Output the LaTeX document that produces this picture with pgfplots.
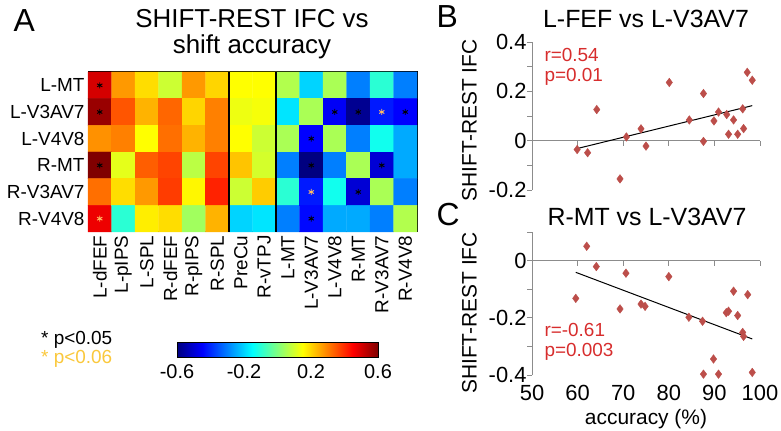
\documentclass[border=0pt]{standalone}
\usepackage{fontspec}
\setmainfont{Liberation Sans}
\usepackage{pgfplots}
\pgfplotsset{compat=1.18}
\definecolor{mk}{RGB}{188,78,74}
\definecolor{rtext}{RGB}{215,45,45}
\definecolor{gold}{RGB}{250,200,60}
\definecolor{axg}{RGB}{140,140,140}
\newcommand{\fs}[1]{\fontsize{#1}{#1}\selectfont}
\begin{document}
\begin{tikzpicture}[x=1bp,y=1bp]
\useasboundingbox (0,0) rectangle (781,430);
% ---------------- Panel A: heatmap ----------------
\begin{axis}[
  at={(88bp,358bp)}, anchor=north west, scale only axis,
  width=329bp, height=160bp,
  xmin=-0.5, xmax=13.5, ymin=-0.5, ymax=5.5, y dir=reverse,
  enlargelimits=false,
  colormap/jet, point meta min=-0.6, point meta max=0.6,
  xtick={0,...,13}, ytick={0,...,5},
  xticklabels={L-dFEF,L-pIPS,L-SPL,R-dFEF,R-pIPS,R-SPL,PreCu,R-vTPJ,L-MT,L-V3AV7,L-V4V8,R-MT,R-V3AV7,R-V4V8},
  yticklabels={L-MT,L-V3AV7,L-V4V8,R-MT,R-V3AV7,R-V4V8},
  xticklabel style={rotate=90, anchor=east, font=\fs{19}},
  yticklabel style={font=\fs{19}},
  tick align=inside, major tick length=4bp,
  tick style={black, line width=0.8bp},
  axis line style={line width=1bp},
  clip=false,
  colorbar horizontal,
  colorbar style={
    at={(parent axis.south west)}, anchor=north west, xshift=89bp, yshift=-102bp,
    scale only axis, width=201bp, height=15bp,
    xtick={-0.6,-0.2,0.2,0.6},
    xticklabel style={font=\fs{20}, yshift=-4bp, /pgf/number format/assume math mode=true, /pgf/number format/fixed, /pgf/number format/precision=1},
    major tick length=0pt,
    axis line style={line width=1bp},
  },
]
\addplot[matrix plot*, mesh/cols=14, point meta=explicit] table[meta=c] {
x y c
0 0 0.50
1 0 0.27
2 0 0.19
3 0 0.09
4 0 0.27
5 0 0.20
6 0 0.15
7 0 0.15
8 0 0.06
9 0 -0.20
10 0 0.05
11 0 -0.30
12 0 -0.10
13 0 -0.30
0 1 0.57
1 1 0.35
2 1 0.24
3 1 0.33
4 1 0.20
5 1 0.30
6 1 0.13
7 1 0.14
8 1 -0.18
9 1 0.05
10 1 -0.46
11 1 -0.58
12 1 -0.42
13 1 -0.45
0 2 0.28
1 2 0.30
2 2 0.15
3 2 0.32
4 2 0.24
5 2 0.30
6 2 0.15
7 2 0.09
8 2 0.05
9 2 -0.45
10 2 0.05
11 2 -0.30
12 2 -0.13
13 2 -0.25
0 3 0.60
1 3 0.12
2 3 0.34
3 3 0.37
4 3 0.07
5 3 0.37
6 3 0.22
7 3 0.10
8 3 -0.30
9 3 -0.60
10 3 -0.30
11 3 0.05
12 3 -0.50
13 3 -0.25
0 4 0.32
1 4 0.19
2 4 0.27
3 4 0.38
4 4 0.16
5 4 0.41
6 4 0.09
7 4 0.21
8 4 -0.10
9 4 -0.42
10 4 -0.13
11 4 -0.50
12 4 0.05
13 4 -0.30
0 5 0.47
1 5 -0.10
2 5 0.17
3 5 0.19
4 5 0.04
5 5 0.24
6 5 -0.20
7 5 -0.18
8 5 -0.30
9 5 -0.44
10 5 -0.25
11 5 -0.25
12 5 -0.30
13 5 0.06
};
\addplot[black, line width=1.2bp] coordinates {(5.5,-0.5) (5.5,5.5)};
\addplot[black, line width=1.2bp] coordinates {(7.5,-0.5) (7.5,5.5)};
\addplot[only marks, mark=asterisk, mark size=3bp, black, mark options={line width=0.9bp}] coordinates {
(0,0) (0,1) (0,3) (10,1) (11,1) (13,1) (9,2) (9,3) (12,3) (11,4) (9,5)};
\addplot[only marks, mark=asterisk, mark size=3bp, color={rgb,255:red,255;green,190;blue,100}, mark options={line width=0.9bp}] coordinates {
(0,5) (12,1) (9,4)};
\end{axis}
\node[anchor=base west, font=\fs{32}] at (10,398) {A};
\node[anchor=base, font=\fs{26}] at (252,402) {SHIFT-REST IFC vs};
\node[anchor=base, font=\fs{26}] at (252,377) {shift accuracy};
\node[anchor=west, font=\fs{19}, inner sep=1bp] at (40,90.5) {* p<0.05};
\node[anchor=west, font=\fs{19}, inner sep=1bp, text=gold] at (40,71) {* p<0.06};
% ---------------- Panel B ----------------
\begin{axis}[
  at={(532bp,240bp)}, anchor=south west, scale only axis,
  width=228bp, height=148bp,
  xmin=50, xmax=100, ymin=-0.2, ymax=0.4,
  axis x line=middle, axis y line=left,
  axis line style={axg, line width=0.8bp, -},
  xtick={50,60,...,100}, xticklabels={},
  ytick={-0.2,0,0.2,0.4}, minor ytick={-0.1,0.1,0.3},
  tick style={axg, line width=0.8bp},
  tick align=outside, major tick length=5bp, minor tick length=5bp,
  yticklabel style={font=\fs{22}, text=black, xshift=3bp},
  /pgf/number format/assume math mode=true,
  hide obscured x ticks=false, hide obscured y ticks=false,
  ylabel={SHIFT-REST IFC},
  every axis y label/.style={at={(axis description cs:-0.275,0.47)}, rotate=90, anchor=center, font=\fs{21}},
  clip=false,
]
\addplot[only marks, mark=diamond*, mark size=4.3bp, color=mk] table {
59.9 -0.036
62.2 -0.049
64.2 0.126
69.3 -0.155
70.7 0.015
73.9 0.048
75.0 -0.022
80.1 0.236
84.5 0.084
87.6 -0.003
87.6 0.191
89.9 0.080
90.9 0.116
92.7 0.106
93.1 0.026
94.2 0.084
95.1 0.026
96.2 0.129
96.4 0.049
97.2 0.277
98.3 0.245
};
\addplot[black, line width=1bp] coordinates {(59.9,-0.032) (98.3,0.142)};
\end{axis}
\node[anchor=base west, font=\fs{32}] at (433,402) {B};
\node[anchor=base, font=\fs{25}] at (646,402) {L-FEF vs L-V3AV7};
\node[anchor=west, font=\fs{19}, text=rtext] at (541,375) {r=0.54};
\node[anchor=west, font=\fs{19}, text=rtext] at (541,353) {p=0.01};
% ---------------- Panel C ----------------
\begin{axis}[
  at={(532bp,55bp)}, anchor=south west, scale only axis,
  width=228bp, height=143bp,
  xmin=50, xmax=100, ymin=-0.4, ymax=0.1,
  axis x line=middle, axis y line=left,
  axis line style={axg, line width=0.8bp, -},
  xtick={50,60,...,100},
  ytick={-0.4,-0.2,0}, minor ytick={-0.3,-0.1,0.1},
  tick style={axg, line width=0.8bp},
  tick align=outside, major tick length=5bp, minor tick length=5bp,
  yticklabel style={font=\fs{22}, text=black, xshift=3bp},
  xticklabel style={font=\fs{22}, text=black, anchor=center, yshift=-127bp},
  /pgf/number format/assume math mode=true,
  hide obscured x ticks=false, hide obscured y ticks=false,
  ylabel={SHIFT-REST IFC},
  every axis y label/.style={at={(axis description cs:-0.275,0.434)}, rotate=90, anchor=center, font=\fs{21}},
  xlabel={accuracy (\%)},
  every axis x label/.style={at={(axis description cs:0.5,0)}, anchor=center, yshift=-44bp, font=\fs{21}},
  clip=false,
]
\addplot[only marks, mark=diamond*, mark size=4.3bp, color=mk] table {
59.6 -0.132
62.0 0.050
64.1 -0.021
69.3 -0.169
70.6 -0.044
73.9 -0.152
74.8 -0.160
80.0 -0.056
84.4 -0.198
87.4 -0.212
87.6 -0.397
89.8 -0.344
90.9 -0.397
92.6 -0.182
93.1 -0.177
94.2 -0.107
95.1 -0.192
96.2 -0.251
96.4 -0.265
97.3 -0.119
98.3 -0.391
};
\addplot[black, line width=1bp] coordinates {(59.6,-0.041) (98.3,-0.274)};
\end{axis}
\node[anchor=base west, font=\fs{32}] at (433,205) {C};
\node[anchor=base, font=\fs{25}] at (647,205) {R-MT vs L-V3AV7};
\node[anchor=west, font=\fs{19}, text=rtext] at (541,100) {r=-0.61};
\node[anchor=west, font=\fs{19}, text=rtext] at (541,78) {p=0.003};
\end{tikzpicture}
\end{document}
